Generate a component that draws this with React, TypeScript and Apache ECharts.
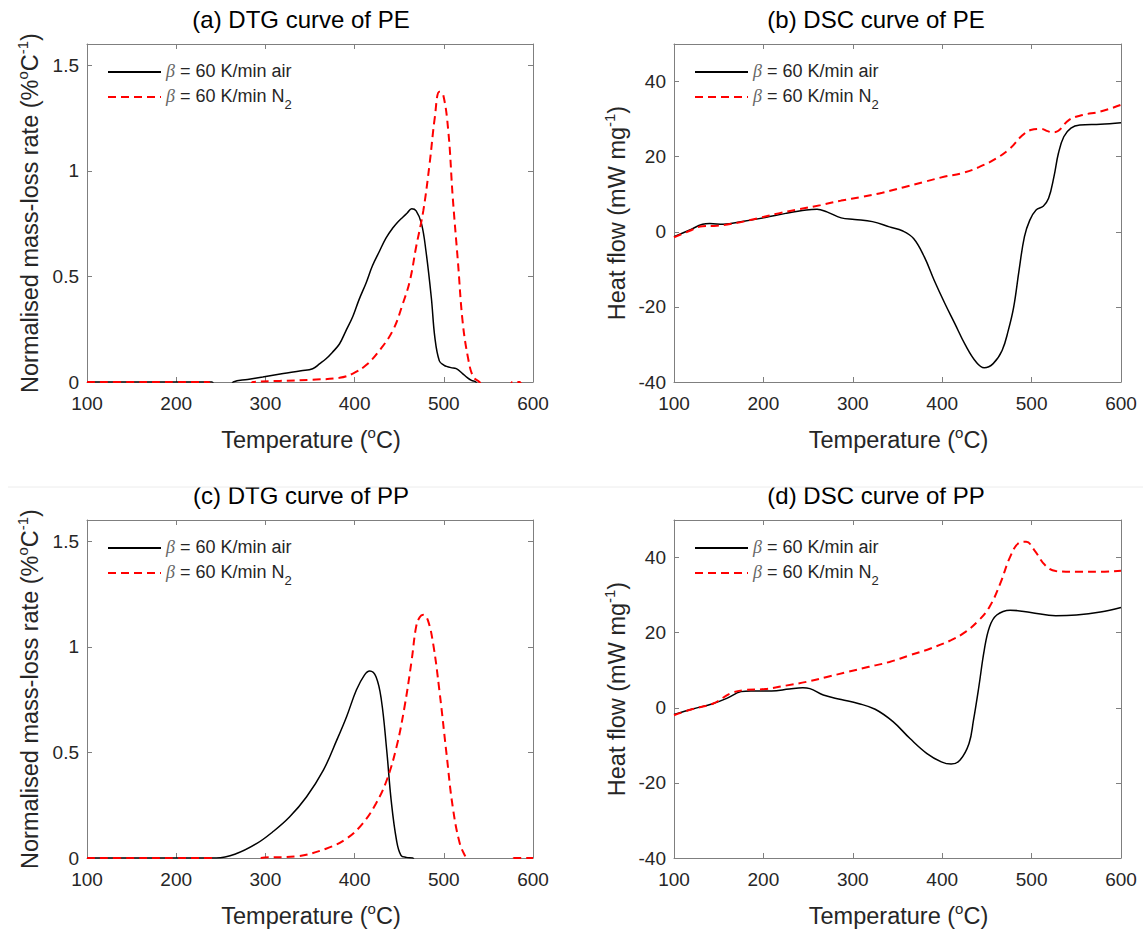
import React, { useEffect, useRef } from "react";
import * as echarts from "echarts";

// ---------- axis ticks ----------
const tempTicks = [100, 200, 300, 400, 500, 600];
const dtgTicks = [0, 0.5, 1, 1.5];
const dtgMax = 1.6;
const dscTicks = [-40, -20, 0, 20, 40];
const dscMax = 50;

const titles = ["(a) DTG curve of PE", "(b) DSC curve of PE", "(c) DTG curve of PP", "(d) DSC curve of PP"];
const legendNames = ["air", "N2"];

// ---------- (a) DTG of PE ----------
const peAirDtgT = [100, 150, 200, 240, 244, 260, 264, 280, 297, 320, 340, 353, 361, 368, 375, 383, 390, 398, 405, 413, 420, 428, 435, 443, 449, 454, 459, 464, 469, 475, 480, 486, 490, 495, 500, 503, 508, 514, 521, 526, 531, 536, 540, 560, 600];
const peAirDtg = [0, 0, 0, 0, -0.03, -0.03, 0, 0.012, 0.024, 0.04, 0.053, 0.063, 0.087, 0.11, 0.14, 0.18, 0.24, 0.31, 0.39, 0.47, 0.55, 0.62, 0.68, 0.73, 0.76, 0.78, 0.8, 0.82, 0.81, 0.75, 0.62, 0.4, 0.21, 0.1, 0.08, 0.074, 0.068, 0.063, 0.04, 0.022, 0.008, 0, -0.03, -0.03, -0.03];
const peN2DtgT = [100, 150, 200, 236, 240, 282, 286, 316, 353, 383, 398, 413, 428, 443, 454, 462, 469, 477, 484, 490, 495, 499, 505, 510, 516, 521, 527, 533, 540, 544, 573, 577, 585, 589, 600];
const peN2Dtg = [0, 0, 0, 0, -0.03, -0.03, 0, 0.005, 0.011, 0.02, 0.04, 0.08, 0.15, 0.245, 0.37, 0.48, 0.64, 0.81, 1.03, 1.255, 1.374, 1.366, 1.19, 0.876, 0.56, 0.29, 0.118, 0.024, 0, -0.03, -0.03, 0, 0, -0.03, -0.03];

// ---------- (b) DSC of PE ----------
const peAirDscT = [100, 117, 132, 140, 155, 178, 202, 225, 248, 260, 271, 287, 302, 322, 341, 356, 368, 380, 391, 403, 414, 426, 438, 447, 457, 467, 474, 480, 486, 492, 498, 505, 513, 519, 525, 530, 536, 544, 554, 577, 600];
const peAirDsc = [-1.3, 0.4, 2.0, 2.2, 2.0, 2.8, 3.8, 4.9, 5.8, 6.0, 5.3, 3.7, 3.3, 2.7, 1.3, 0.2, -1.8, -6.7, -12.9, -19.1, -24.4, -30.2, -34.7, -36.2, -35.1, -31.6, -26.2, -20, -10.2, -1.3, 3.1, 5.8, 6.8, 8.9, 14.7, 20.9, 25.3, 27.6, 28.4, 28.6, 29.0];
const peN2DscT = [100, 117, 132, 148, 171, 194, 217, 240, 264, 287, 310, 333, 356, 380, 403, 422, 441, 461, 476, 488, 499, 511, 518, 523, 530, 542, 557, 577, 600];
const peN2Dsc = [-1.5, 0.2, 1.5, 1.6, 2.4, 3.6, 4.9, 6.0, 7.1, 8.3, 9.3, 10.4, 11.8, 13.3, 14.7, 15.6, 17.2, 19.6, 22.2, 25.3, 27.1, 27.4, 26.8, 26.5, 26.9, 29.8, 31.1, 32.0, 33.8];

// ---------- (c) DTG of PP ----------
const ppAirDtgT = [100, 150, 200, 245, 267, 290, 308, 327, 346, 365, 380, 391, 402, 411, 417, 424, 430, 436, 441, 447, 452, 458, 465, 470, 600];
const ppAirDtg = [0, 0, 0, 0, 0.02, 0.068, 0.123, 0.194, 0.289, 0.416, 0.558, 0.669, 0.795, 0.866, 0.885, 0.858, 0.748, 0.51, 0.273, 0.084, 0.013, 0.003, 0, -0.03, -0.03];
const ppN2DtgT = [100, 150, 200, 240, 244, 290, 294, 335, 368, 391, 409, 424, 436, 447, 456, 464, 469, 473, 477, 482, 488, 495, 503, 510, 518, 525, 529, 575, 579, 600];
const ppN2Dtg = [0, 0, 0, 0, -0.03, -0.03, 0, 0.008, 0.044, 0.092, 0.163, 0.258, 0.368, 0.526, 0.716, 0.937, 1.095, 1.14, 1.151, 1.127, 1.016, 0.795, 0.495, 0.242, 0.068, 0, -0.03, -0.03, 0, 0];

// ---------- (d) DSC of PP ----------
const ppAirDscT = [100, 120, 144, 159, 175, 186, 209, 229, 244, 252, 267, 287, 306, 325, 345, 364, 383, 399, 410, 420, 430, 435, 441, 447, 453, 461, 476, 499, 527, 550, 577, 600];
const ppAirDsc = [-1.8, -0.4, 1.15, 2.5, 4.3, 4.5, 4.5, 5.0, 5.3, 5.1, 3.4, 2.2, 1.15, -0.4, -3.7, -8.2, -12.2, -14.4, -15.0, -13.9, -9.5, -3.3, 5.6, 15.3, 21.6, 24.7, 26.0, 25.4, 24.5, 24.7, 25.5, 26.7];
const ppN2DscT = [100, 120, 144, 163, 178, 202, 225, 248, 271, 295, 318, 341, 364, 387, 410, 426, 441, 453, 465, 476, 486, 494, 503, 515, 527, 550, 577, 600];
const ppN2Dsc = [-2.0, -0.4, 1.15, 3.8, 4.7, 5.0, 5.9, 6.9, 8.2, 9.6, 10.9, 12.2, 14.0, 15.8, 18.0, 20.2, 23.3, 26.9, 33.1, 40.2, 43.9, 44.2, 42.0, 38.0, 36.4, 36.2, 36.2, 36.5];

const zip = (xs: number[], ys: number[]) => xs.map((x, i) => [x, ys[i]]);

const FONT = "'Liberation Sans', Arial, Helvetica, sans-serif";
const AXIS_GREY = "#7f7f7f";
const TEXT = "#262626";

type Panel = {
  grid: { left: number; top: number; width: number; height: number };
  kind: "dtg" | "dsc";
  air: number[][];
  n2: number[][];
  title: string;
  titleX: number;
};

function buildOption() {
  const panels: Panel[] = [
    { grid: { left: 87, top: 44, width: 446, height: 338 }, kind: "dtg", air: zip(peAirDtgT, peAirDtg), n2: zip(peN2DtgT, peN2Dtg), title: titles[0], titleX: 301 },
    { grid: { left: 674, top: 44, width: 447, height: 338 }, kind: "dsc", air: zip(peAirDscT, peAirDsc), n2: zip(peN2DscT, peN2Dsc), title: titles[1], titleX: 876 },
    { grid: { left: 87, top: 520, width: 446, height: 338 }, kind: "dtg", air: zip(ppAirDtgT, ppAirDtg), n2: zip(ppN2DtgT, ppN2Dtg), title: titles[2], titleX: 301 },
    { grid: { left: 674, top: 520, width: 447, height: 338 }, kind: "dsc", air: zip(ppAirDscT, ppAirDsc), n2: zip(ppN2DscT, ppN2Dsc), title: titles[3], titleX: 876 },
  ];

  const grid: any[] = [];
  const xAxis: any[] = [];
  const yAxis: any[] = [];
  const series: any[] = [];
  const legend: any[] = [];
  const graphic: any[] = [];

  const axisLine = { show: true, onZero: false, lineStyle: { color: AXIS_GREY, width: 1 } };
  const axisTick = { show: true, inside: true, length: 5, lineStyle: { color: AXIS_GREY, width: 1 } };
  const labelStyle = { color: TEXT, fontSize: 19, fontFamily: FONT };

  const nameRich = {
    n: { fontSize: 23.5, lineHeight: 30, verticalAlign: "middle", fill: TEXT, fontFamily: FONT },
    p: { fontSize: 15, lineHeight: 15, verticalAlign: "top", fill: TEXT, fontFamily: FONT },
  };

  panels.forEach((p, i) => {
    const g = p.grid;
    grid.push({ ...g, containLabel: false, outerBoundsMode: "none" });
    const xCommon = {
      type: "value",
      gridIndex: i,
      min: tempTicks[0],
      max: tempTicks[tempTicks.length - 1],
      interval: tempTicks[1] - tempTicks[0],
      axisLine,
      axisTick,
      splitLine: { show: false },
    };
    xAxis.push({ ...xCommon, position: "bottom", axisLabel: { ...labelStyle, margin: 12, formatter: (v: number) => String(v) } });
    xAxis.push({ ...xCommon, position: "top", axisLabel: { show: false } });

    const ticks = p.kind === "dtg" ? dtgTicks : dscTicks;
    const yMax = p.kind === "dtg" ? dtgMax : dscMax;
    const yCommon = {
      type: "value",
      gridIndex: i,
      min: ticks[0],
      max: yMax,
      interval: ticks[1] - ticks[0],
      axisLine,
      axisTick,
      splitLine: { show: false },
    };
    yAxis.push({
      ...yCommon,
      position: "left",
      axisLabel: {
        ...labelStyle,
        margin: 8,
        showMaxLabel: false,
        formatter: (v: number) => (ticks.some((t) => Math.abs(t - v) < 1e-9) ? String(v) : ""),
      },
    });
    yAxis.push({ ...yCommon, position: "right", axisLabel: { show: false } });

    series.push({
      type: "line",
      name: legendNames[0],
      xAxisIndex: 2 * i,
      yAxisIndex: 2 * i,
      data: p.air,
      showSymbol: false,
      symbol: "none",
      smooth: 0.4,
      clip: true,
      silent: true,
      lineStyle: { color: "#000000", width: 1.5 },
      itemStyle: { color: "#000000" },
    });
    series.push({
      type: "line",
      name: legendNames[1],
      xAxisIndex: 2 * i,
      yAxisIndex: 2 * i,
      data: p.n2,
      showSymbol: false,
      symbol: "none",
      smooth: 0.4,
      clip: true,
      silent: true,
      lineStyle: { color: "#ff0000", width: 2, type: [8, 5] },
      itemStyle: { color: "#ff0000" },
    });

    legend.push({
      orient: "vertical",
      left: g.left + 20,
      top: g.top + 18,
      padding: 0,
      itemWidth: 53,
      itemHeight: 14,
      itemGap: 7,
      selectedMode: false,
      data: legendNames,
      itemStyle: { opacity: 0 },
      formatter: (name: string) =>
        name === "air" ? "{b|β}{n| = 60 K/min air}" : "{b|β}{n| = 60 K/min N}{s|2}",
      textStyle: {
        fontSize: 18,
        color: TEXT,
        fontFamily: FONT,
        rich: {
          b: { fontSize: 18, lineHeight: 20, verticalAlign: "top", fontStyle: "italic", color: "#666666", fontFamily: "'Liberation Serif', serif" },
          n: { fontSize: 18, lineHeight: 20, verticalAlign: "top", color: TEXT, fontFamily: FONT },
          s: { fontSize: 13, lineHeight: 13, verticalAlign: "top", padding: [11, 0, 0, 0], color: TEXT, fontFamily: FONT },
        },
      },
    });

    // title
    graphic.push({
      type: "text",
      x: p.titleX,
      y: g.top - 25,
      silent: true,
      style: { text: p.title, fontSize: 24, fontFamily: FONT, fill: "#000000", align: "center", verticalAlign: "middle" },
    });
    // x axis name
    graphic.push({
      type: "text",
      x: g.left + g.width / 2 + 1,
      y: g.top + g.height + 58,
      silent: true,
      style: {
        text: "{n|Temperature (}{p|o}{n|C)}",
        rich: nameRich,
        fontSize: 23.5,
        fontFamily: FONT,
        fill: TEXT,
        align: "center",
        verticalAlign: "middle",
      },
    });
    // y axis name
    graphic.push({
      type: "text",
      x: p.kind === "dtg" ? 30 : 617,
      y: g.top + g.height / 2,
      rotation: Math.PI / 2,
      silent: true,
      style: {
        text: p.kind === "dtg" ? "{n|Normalised mass-loss rate (%}{p|o}{n|C}{p|-1}{n|)}" : "{n|Heat flow (mW mg}{p|-1}{n|)}",
        rich: nameRich,
        fontSize: 23.5,
        fontFamily: FONT,
        fill: TEXT,
        align: "center",
        verticalAlign: "middle",
      },
    });
  });

  // faint separator line between the two rows of the figure
  graphic.push({
    type: "line",
    silent: true,
    shape: { x1: 8, y1: 487, x2: 1143, y2: 487 },
    style: { stroke: "#ececec", lineWidth: 1 },
  });

  return {
    animation: false,
    backgroundColor: "#ffffff",
    grid,
    xAxis,
    yAxis,
    series,
    legend,
    graphic,
  };
}

export default function App() {
  const ref = useRef<HTMLDivElement>(null);
  useEffect(() => {
    if (!ref.current) return;
    const chart = echarts.init(ref.current, null, { renderer: "svg" });
    chart.setOption(buildOption() as any);
    return () => chart.dispose();
  }, []);
  return (
    <div
      ref={ref}
      style={{ position: "absolute", left: 0, top: 0, width: 1143, height: 929, background: "#ffffff" }}
    />
  );
}
